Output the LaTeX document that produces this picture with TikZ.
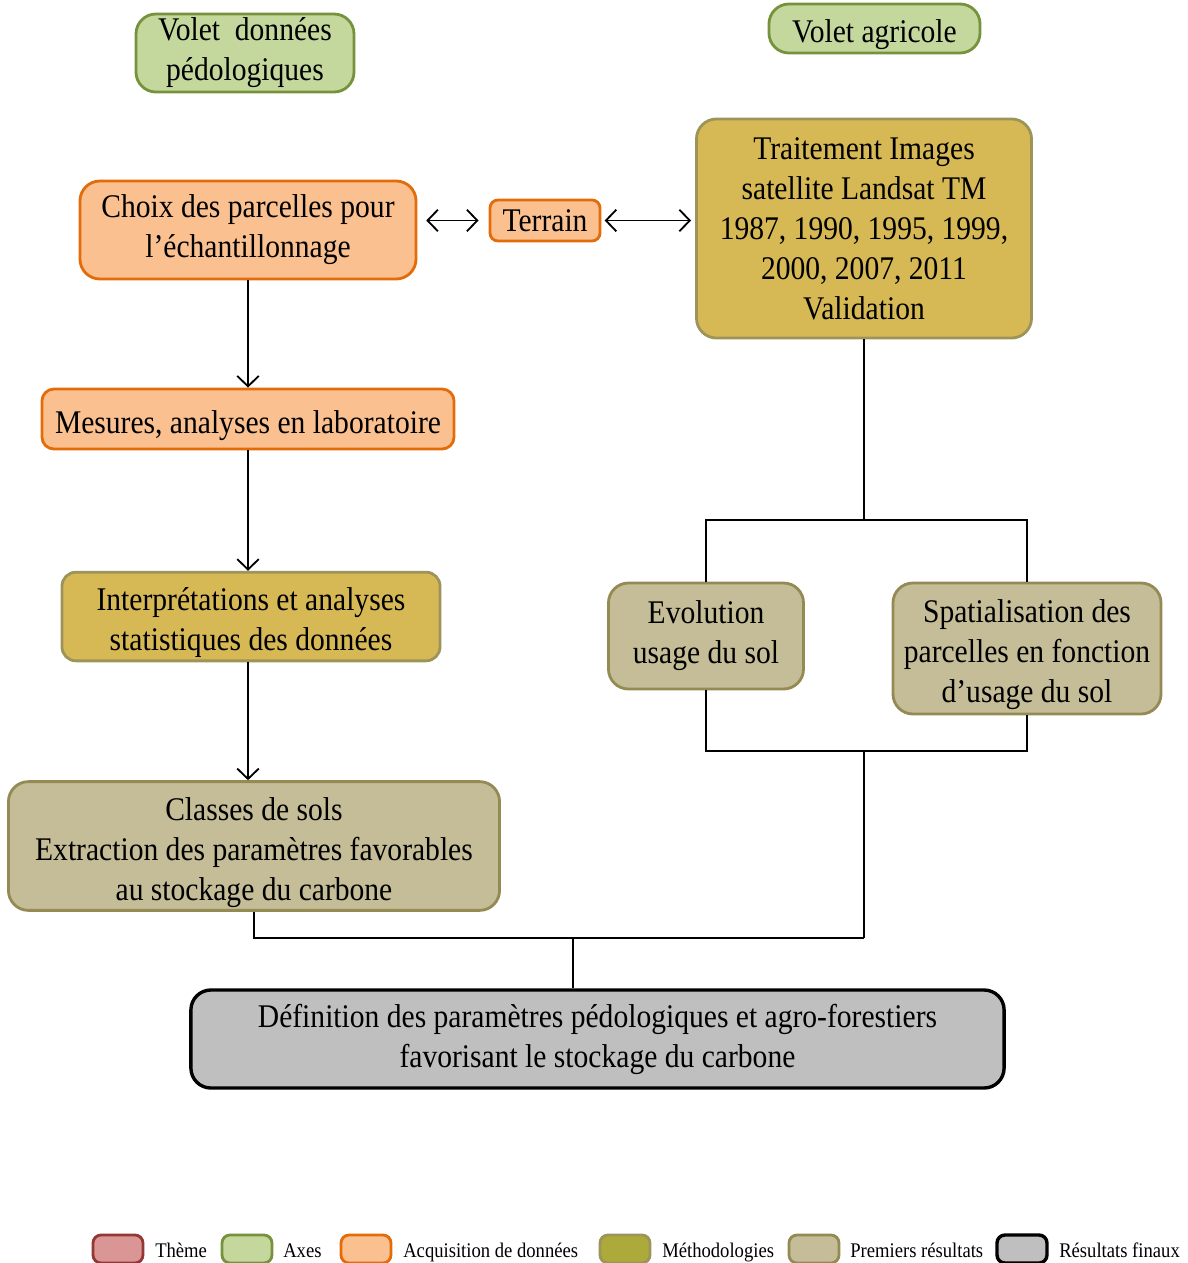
\documentclass[tikz,border=0pt]{standalone}
\usepackage{fontspec}
\setmainfont[FakeStretch=0.895]{Liberation Serif}
\usepackage{xcolor}
\usepackage{tikz}
\usetikzlibrary{positioning,arrows.meta}

\definecolor{themefill}{HTML}{D99694}
\definecolor{themedraw}{HTML}{953735}
\definecolor{axefill}{HTML}{C4D89E}
\definecolor{axedraw}{HTML}{76923C}
\definecolor{acqfill}{HTML}{FAC090}
\definecolor{acqdraw}{HTML}{E36C09}
\definecolor{methfill}{HTML}{D6B955}
\definecolor{methdraw}{HTML}{9C9458}
\definecolor{methleg}{HTML}{ACAA3B}
\definecolor{premfill}{HTML}{C4BD97}
\definecolor{premdraw}{HTML}{948A54}
\definecolor{finfill}{HTML}{BFBFBF}

\newcommand{\padtop}{\rule{0pt}{0.9cm}}

\tikzset{
	box/.style={rounded corners=0.5cm, line width=2pt, align=center, inner sep=2pt,
		font=\fontsize{23.5}{28.45}\selectfont},
	axe/.style={box, fill=axefill, draw=axedraw},
	acq/.style={box, fill=acqfill, draw=acqdraw},
	meth/.style={box, fill=methfill, draw=methdraw},
	prem/.style={box, fill=premfill, draw=premdraw},
	fin/.style={box, fill=finfill, draw=black, line width=2.4pt},
	link/.style={line width=1.3pt, >={Straight Barb[length=2.6mm,width=5.4mm]}},
	swatch/.style={rounded corners=0.2cm, line width=2pt, minimum width=1.25cm, minimum height=0.7cm},
	legtext/.style={anchor=base west, inner sep=0pt, font=\fontsize{14.8}{17}\selectfont}
}

\begin{document}
\begin{tikzpicture}[x=0.025cm, y=-0.025cm]
	\useasboundingbox (0,0) rectangle (1188,1263);

	\node[axe, minimum width=5.45cm, minimum height=1.95cm] (vpedo) at (245,53) {Volet~ données\\pédologiques};
	\node[axe, minimum width=5.275cm, minimum height=1.225cm] (vagri) at (874.5,28.5) {\padtop Volet agricole};

	\node[acq, minimum width=8.4cm, minimum height=2.45cm] (choix) at (248,230) {Choix des parcelles pour\\l’échantillonnage};
	\node[acq, minimum width=2.75cm, minimum height=1.025cm, rounded corners=0.2cm] (terrain) at (545,220.5) {Terrain};
	\node[meth, minimum width=8.375cm, minimum height=5.475cm] (trait) at (864,228.5) {Traitement Images\\satellite Landsat TM\\1987, 1990, 1995, 1999,\\2000, 2007, 2011\\Validation};
	\node[acq, minimum width=10.3cm, minimum height=1.5cm, rounded corners=0.3cm] (mesures) at (248,419) {\padtop Mesures, analyses en laboratoire};
	\node[meth, minimum width=9.45cm, minimum height=2.175cm, rounded corners=0.35cm] (interp) at (251,616.5) {\padtop Interprétations et analyses\\statistiques des données};
	\node[prem, minimum width=12.275cm, minimum height=3.2cm] (classes) at (254,846) {\padtop Classes de sols\\Extraction des paramètres favorables\\au stockage du carbone};
	\node[prem, minimum width=4.875cm, minimum height=2.65cm] (evol) at (706,636) {Evolution\\usage du sol};
	\node[prem, minimum width=6.7cm, minimum height=3.275cm] (spat) at (1027,648.5) {\padtop Spatialisation des\\parcelles en fonction\\d’usage du sol};
	\node[fin, minimum width=20.325cm, minimum height=2.45cm] (defin) at (597.5,1039) {Définition des paramètres pédologiques et agro-forestiers\\favorisant le stockage du carbone};

	\coordinate (j1) at (864,520);
	\coordinate (j2) at (864,751);
	\coordinate (j3) at (864,938);
	\coordinate (j4) at (573,938);

	\draw[link,->] (choix) -- (mesures);
	\draw[link,->] (mesures.south) -- (mesures.south |- interp.north);
	\draw[link,->] (interp.south -| mesures.south) -- (mesures.south |- classes.north);
	\draw[link,<->, shorten <=0.22cm, shorten >=0.25cm] (choix.east |- terrain) -- (terrain.west);
	\draw[link,<->, shorten <=0.08cm, shorten >=0.1cm] (terrain.east) -- (terrain.east -| trait.west);
	\draw[link] (trait) -- (j1);
	\draw[link] (j1) -| (evol);
	\draw[link] (j1) -| (spat);
	\draw[link] (evol) |- (j2);
	\draw[link] (spat) |- (j2);
	\draw[link] (j2) -- (j3);
	\draw[link] (classes) |- (j3);
	\draw[link] (j4) -- (j4 |- defin.north);

	\node[swatch, fill=themefill, draw=themedraw] (legtheme) at (118,1249) {};
	\node[legtext] (ltheme) at (155,1257) {Thème};
	\node[swatch, fill=axefill, draw=axedraw] (legaxe) at (247,1249) {};
	\node[legtext] (laxe) at (283,1257) {Axes};
	\node[swatch, fill=acqfill, draw=acqdraw] (legacq) at (366,1249) {};
	\node[legtext] (lacq) at (403,1257) {Acquisition de données};
	\node[swatch, fill=methleg, draw=methdraw] (legmeth) at (625,1249) {};
	\node[legtext] (lmeth) at (662,1257) {Méthodologies};
	\node[swatch, fill=premfill, draw=premdraw] (legprem) at (814,1249) {};
	\node[legtext] (lprem) at (850,1257) {Premiers résultats};
	\node[swatch, fill=finfill, draw=black, line width=2.4pt] (legfin) at (1022,1249) {};
	\node[legtext] (lfin) at (1059,1257) {Résultats finaux};
\end{tikzpicture}
\end{document}
